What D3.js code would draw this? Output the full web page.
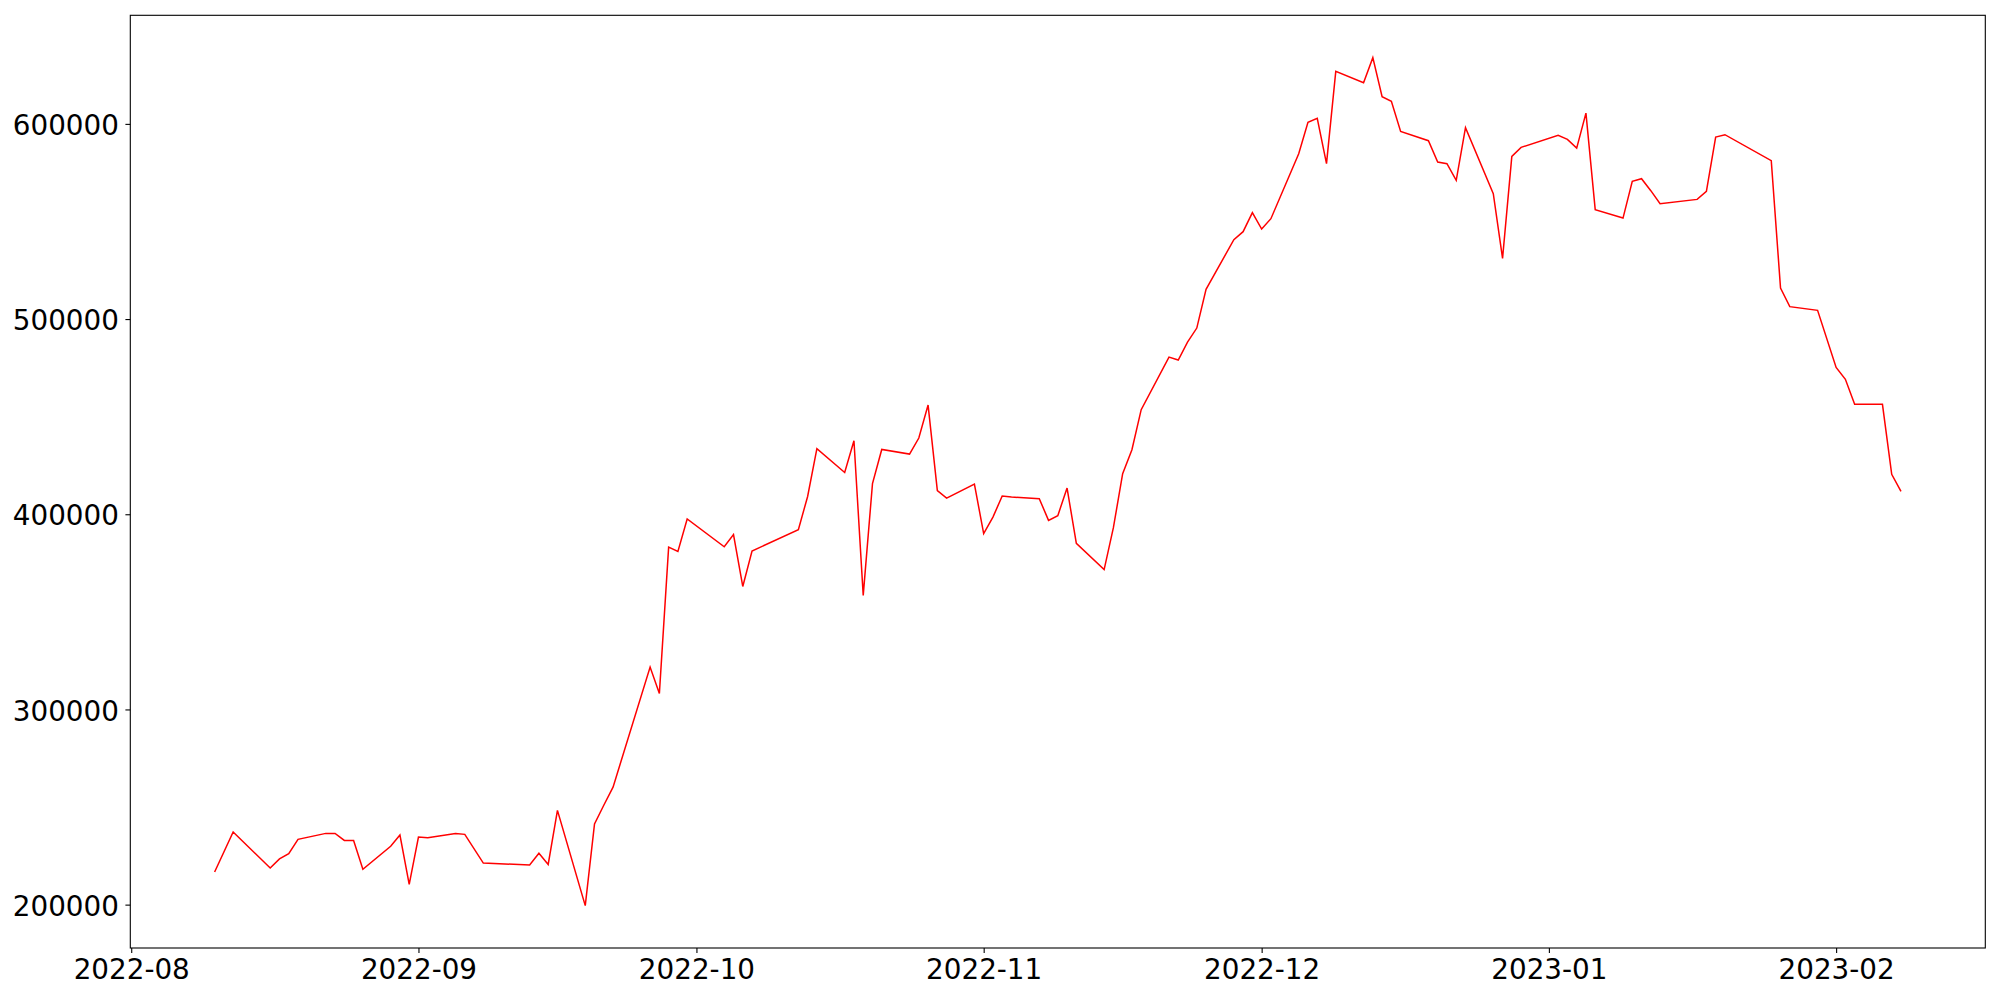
<!DOCTYPE html>
<html>
<head>
<meta charset="utf-8">
<script src="https://cdn.jsdelivr.net/npm/d3@7"></script>
<style>
body { margin: 0; background: #fff; }
.tick text { font-family: "DejaVu Sans", sans-serif; font-size: 27.8px; fill: #000; }
</style>
</head>
<body>
<div id="chart"></div>
<script>

// daily values, trading days only

var dates = [
    "2022-08-10", "2022-08-12", "2022-08-16", "2022-08-17", "2022-08-18", "2022-08-19",
    "2022-08-22", "2022-08-23", "2022-08-24", "2022-08-25", "2022-08-26",
    "2022-08-29", "2022-08-30", "2022-08-31", "2022-09-01", "2022-09-02",
    "2022-09-05", "2022-09-06", "2022-09-08",
    "2022-09-13", "2022-09-14", "2022-09-15", "2022-09-16",
    "2022-09-19", "2022-09-20", "2022-09-21", "2022-09-22",
    "2022-09-26", "2022-09-27", "2022-09-28", "2022-09-29", "2022-09-30",
    "2022-10-04", "2022-10-05", "2022-10-06", "2022-10-07",
    "2022-10-12", "2022-10-13", "2022-10-14",
    "2022-10-17", "2022-10-18", "2022-10-19", "2022-10-20", "2022-10-21",
    "2022-10-24", "2022-10-25", "2022-10-26", "2022-10-27", "2022-10-28",
    "2022-10-31", "2022-11-01", "2022-11-02", "2022-11-03", "2022-11-04",
    "2022-11-07", "2022-11-08", "2022-11-09", "2022-11-10", "2022-11-11",
    "2022-11-14", "2022-11-15", "2022-11-16", "2022-11-17", "2022-11-18",
    "2022-11-21", "2022-11-22", "2022-11-23", "2022-11-24", "2022-11-25",
    "2022-11-28", "2022-11-29", "2022-11-30", "2022-12-01", "2022-12-02",
    "2022-12-05", "2022-12-06", "2022-12-07", "2022-12-08", "2022-12-09",
    "2022-12-12", "2022-12-13", "2022-12-14", "2022-12-15", "2022-12-16",
    "2022-12-19", "2022-12-20", "2022-12-21", "2022-12-22", "2022-12-23",
    "2022-12-26", "2022-12-27", "2022-12-28", "2022-12-29",
    "2023-01-02", "2023-01-03", "2023-01-04", "2023-01-05", "2023-01-06",
    "2023-01-09", "2023-01-10", "2023-01-11", "2023-01-12", "2023-01-13",
    "2023-01-17", "2023-01-18", "2023-01-19", "2023-01-20",
    "2023-01-25", "2023-01-26", "2023-01-27",
    "2023-01-30", "2023-02-01", "2023-02-02", "2023-02-03",
    "2023-02-06", "2023-02-07", "2023-02-08"
];

var values = [
    216700, 237200, 218750, 223400, 226100, 233450,
    236500, 236500, 232900, 232800, 218100,
    229900, 235650, 210400, 234600, 234300,
    236400, 236000, 221300,
    220300, 226300, 220600, 248300,
    199500, 241300, 250900, 260200,
    321700, 308150, 383150, 380950, 397600,
    383350, 389550, 363000, 381150,
    392100, 409100, 433650,
    421400, 437650, 358450, 415700, 433200,
    430840, 439040, 455940, 412090, 408300,
    415470, 390060, 398560, 409320, 408810,
    408000, 396880, 399280, 413420, 385090,
    371620, 393130, 420800, 433090, 453580,
    480530, 479000, 488220, 495390, 515220,
    540680, 544770, 554510, 546110, 551430,
    584730, 600770, 602820, 579610, 626900,
    621110, 633910, 613930, 611520, 596160,
    591390, 580430, 579610, 571050, 598050,
    564240, 531100, 583350, 587960,
    594110, 592060, 587600, 605530, 556040,
    551740, 570540, 571930, 565780, 559120,
    561320, 565420, 593240, 594470,
    581150, 515880, 506350,
    504460, 475260, 469110, 456300,
    456300, 420440, 411730
];

var yTicks = [200000, 300000, 400000, 500000, 600000];

var WIDTH = 2000;
var HEIGHT = 1000;
var LEFT = 130.3;
var RIGHT = 1985.3;
var TOP = 15.3;
var BOTTOM = 948;

var parse = d3.utcParse("%Y-%m-%d");

// matplotlib style 5% margin round the data
function padded(ext) {
    var p = (ext[1] - ext[0]) * 0.05;
    return [ext[0] - p, ext[1] + p];
}

function draw(elt) {
    var points = dates.map(function(d, i) { return { date: parse(d), value: values[i] }; });

    var tx = padded(d3.extent(points, function(d) { return +d.date; }));
    var x = d3.scaleUtc()
        .domain([new Date(tx[0]), new Date(tx[1])])
        .range([LEFT, RIGHT]);

    var y = d3.scaleLinear()
        .domain(padded(d3.extent(values)))
        .range([BOTTOM, TOP]);

    var svg = d3.select(elt).append("svg")
        .attr("width", WIDTH)
        .attr("height", HEIGHT);

    var xAxis = d3.axisBottom(x)
        .ticks(d3.utcMonth.every(1))
        .tickFormat(d3.utcFormat("%Y-%m"))
        .tickSize(4.9)
        .tickPadding(4.9);

    var gx = svg.append("g")
        .attr("transform", "translate(0," + BOTTOM + ")")
        .call(xAxis);
    gx.select(".domain").remove();
    gx.selectAll("text").attr("dy", "0.76em");

    var yAxis = d3.axisLeft(y)
        .tickValues(yTicks)
        .tickFormat(d3.format("d"))
        .tickSize(4.9)
        .tickPadding(6.5);

    var gy = svg.append("g")
        .attr("transform", "translate(" + LEFT + ",0)")
        .call(yAxis);
    gy.select(".domain").remove();
    gy.selectAll("text").attr("dy", "0.38em");

    svg.selectAll(".tick line").attr("stroke", "#000").attr("stroke-width", 1.1);

    var line = d3.line()
        .x(function(d) { return x(d.date); })
        .y(function(d) { return y(d.value); });

    svg.append("path")
        .datum(points)
        .attr("d", line)
        .attr("fill", "none")
        .attr("stroke", "#ff0000")
        .attr("stroke-width", 1.5)
        .attr("stroke-linejoin", "miter");

    svg.append("rect")
        .attr("x", LEFT)
        .attr("y", TOP)
        .attr("width", RIGHT - LEFT)
        .attr("height", BOTTOM - TOP)
        .attr("fill", "none")
        .attr("stroke", "#000")
        .attr("stroke-width", 1.1);
}

draw("#chart");

</script>
</body>
</html>
